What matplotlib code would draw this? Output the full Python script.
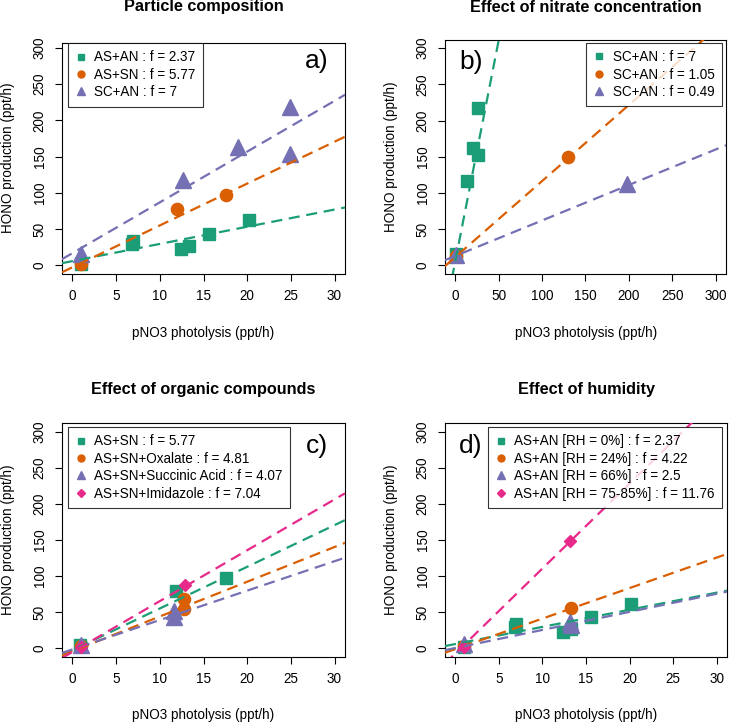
import numpy as np
import matplotlib
matplotlib.use('Agg')
import matplotlib.pyplot as plt
from matplotlib.lines import Line2D

plt.rcParams['font.family'] = ['Liberation Sans', 'DejaVu Sans']

GREEN, ORANGE, PURPLE, PINK = '#1B9E77', '#D95F02', '#7570B3', '#E7298A'
COLORS = [GREEN, ORANGE, PURPLE, PINK]
MARKERS = ['s', 'o', '^', 'D']
MSIZE = [9, 8.8, 11.5, 6.2]
LEG_MSIZE = [4.5, 5, 6, 3.6]

# a) particle composition
a_labels = ['AS+AN : f = 2.37', 'AS+SN : f = 5.77', 'SC+AN : f = 7']
a_slopes = [2.37, 5.77, 7.0]
a_icpt = [6, -2.5, 17]
asan_x = [1, 6.8, 6.9, 12.4, 13.3, 15.6, 20.2]
asan_y = [2, 30, 34, 23, 27, 44, 62]
assn_x = [1, 12, 17.6]
assn_y = [2, 78, 97]
scan_x = [1, 12.6, 19, 24.9, 24.9]
scan_y = [16, 118, 163, 218, 154]

# b) nitrate concentration (fitted lines as drawn)
b_labels = ['SC+AN : f = 7', 'SC+AN : f = 1.05', 'SC+AN : f = 0.49']
b_slopes = [6.1, 1.05, 0.49]
b_icpt = [6.5, 11.5, 13]
b1_x = [1, 13.3, 19.8, 25.5, 25.5]
b1_y = [16, 117, 162, 153, 217]
b2_x = [1, 130]
b2_y = [13, 150]
b3_x = [1, 198]
b3_y = [14, 112]

# c) organic compounds
c_labels = ['AS+SN : f = 5.77', 'AS+SN+Oxalate : f = 4.81',
            'AS+SN+Succinic Acid : f = 4.07', 'AS+SN+Imidazole : f = 7.04']
c_slopes = [5.77, 4.81, 4.07, 7.04]
c_icpt = [-2.5, -4, -1.5, -5]
c1_x = [0.9, 11.8, 17.6]
c1_y = [4, 79, 97]
c2_x = [1, 12.8, 12.8]
c2_y = [3, 68, 55]
c3_x = [1, 11.6, 11.6]
c3_y = [5, 52, 43]
c4_x = [1, 12.9]
c4_y = [2, 87]

# d) humidity
d_labels = ['AS+AN [RH = 0%] : f = 2.37', 'AS+AN [RH = 24%] : f = 4.22',
            'AS+AN [RH = 66%] : f = 2.5', 'AS+AN [RH = 75-85%] : f = 11.76']
d_slopes = [2.37, 4.22, 2.5, 11.76]
d_icpt = [6, -1, 0.5, -7]
d2_x = [1, 13.3]
d2_y = [3, 56]
d3_x = [1, 13.2, 13.3]
d3_y = [6, 37, 32]
d4_x = [1, 13.2]
d4_y = [2, 148]

W, H = 729, 722
fig = plt.figure(figsize=(W / 100, H / 100), dpi=100)


def make_ax(l, r, t, b):
    return fig.add_axes([l / W, 1 - b / H, (r - l) / W, (b - t) / H])


def panel(ax, series, slopes, icpts, labels, xlim, ylim, xticks, anchor, loc):
    ax.set_xlim(xlim)
    ax.set_ylim(ylim)
    for i, (xs, ys) in enumerate(series):
        ax.plot(xs, ys, MARKERS[i], color=COLORS[i], ms=MSIZE[i], mec=COLORS[i], zorder=2)
    xx = np.array(xlim)
    for i, (s, c) in enumerate(zip(slopes, icpts)):
        ax.plot(xx, s * xx + c, color=COLORS[i], lw=1.6, dashes=(5, 3), zorder=3)
    ax.set_xticks(xticks)
    ax.set_yticks([0, 50, 100, 150, 200, 250, 300])
    ax.tick_params(length=5, width=0.8, labelsize=9.75, pad=6)
    ax.tick_params(axis='y', labelrotation=90)
    for lab in ax.get_yticklabels():
        lab.set_verticalalignment('center')
    for sp in ax.spines.values():
        sp.set_linewidth(0.8)
    handles = [Line2D([], [], ls='', marker=MARKERS[i], color=COLORS[i], ms=LEG_MSIZE[i])
               for i in range(len(labels))]
    leg = ax.legend(handles, labels, loc=loc, bbox_to_anchor=anchor, borderaxespad=0,
                    fontsize=9.75, frameon=True, fancybox=False, handlelength=0.8,
                    handletextpad=0.6, labelspacing=0.25, borderpad=0.55)
    leg.get_frame().set_edgecolor('black')
    leg.get_frame().set_linewidth(0.8)
    leg.set_zorder(5)


axa = make_ax(62, 345, 43, 274)
panel(axa, [(asan_x, asan_y), (assn_x, assn_y), (scan_x, scan_y)],
      a_slopes, a_icpt, a_labels, (-1.2, 31.2), (-11.8, 306.8),
      range(0, 31, 5), (0.021, 1.0), 'upper left')

axb = make_ax(445, 726, 39.5, 274)
panel(axb, [(b1_x, b1_y), (b2_x, b2_y), (b3_x, b3_y)],
      b_slopes, b_icpt, b_labels, (-12, 312), (-12, 312),
      range(0, 301, 50), (0.986, 0.986), 'upper right')

axc = make_ax(62, 345, 423, 657)
panel(axc, [(c1_x, c1_y), (c2_x, c2_y), (c3_x, c3_y), (c4_x, c4_y)],
      c_slopes, c_icpt, c_labels, (-1.2, 31.2), (-12, 312),
      range(0, 31, 5), (0.02, 0.983), 'upper left')

axd = make_ax(445, 727, 423, 657)
panel(axd, [(asan_x, asan_y), (d2_x, d2_y), (d3_x, d3_y), (d4_x, d4_y)],
      d_slopes, d_icpt, d_labels, (-1.2, 31.2), (-12, 312),
      range(0, 31, 5), (0.983, 0.983), 'upper right')

titles = ['Particle composition', 'Effect of nitrate concentration',
          'Effect of organic compounds', 'Effect of humidity']
for (x, y), t in zip([(203.5, 7), (586, 7), (203.5, 390), (586, 390)], titles):
    fig.text(x / W, 1 - y / H, t, ha='center', va='center', fontsize=11.7, fontweight='bold')

for (x, y) in [(203.5, 333), (586, 333), (203.5, 715), (586, 715)]:
    fig.text(x / W, 1 - y / H, 'pNO3 photolysis (ppt/h)', ha='center', va='center', fontsize=9.75)
for (x, y) in [(8, 158), (391, 157), (8, 540), (391, 540)]:
    fig.text(x / W, 1 - y / H, 'HONO production (ppt/h)', ha='center', va='center',
             fontsize=9.75, rotation=90)

for (x, y), t in zip([(317, 61), (471, 62), (317, 446), (471, 446)], ['a)', 'b)', 'c)', 'd)']):
    fig.text(x / W, 1 - y / H, t, ha='center', va='center', fontsize=19, zorder=10)

fig.savefig('out.png', dpi=100)
